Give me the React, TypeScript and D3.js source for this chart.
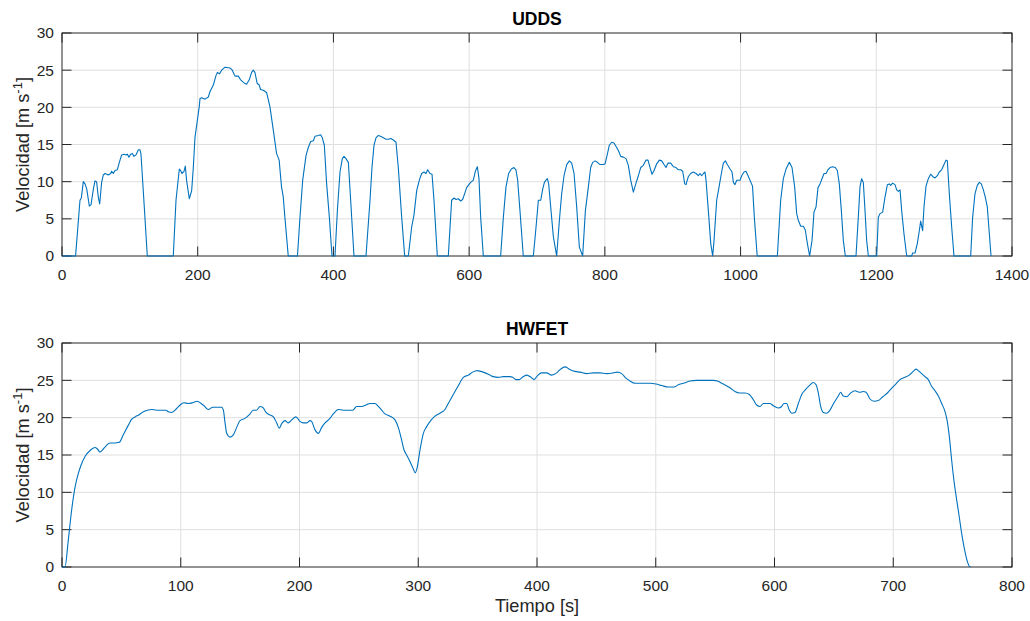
import React from "react";
import * as d3 from "d3";

// ---------- DATA ----------
const uddsTicksX = [0, 200, 400, 600, 800, 1000, 1200, 1400];
const hwfetTicksX = [0, 100, 200, 300, 400, 500, 600, 700, 800];
const speedTicks = [0, 5, 10, 15, 20, 25, 30];

// UDDS: [time s, speed m/s]
const uddsPoints: [number, number][] = [
  [0,0],[20,0],
  [26.5,7.5],[28.5,7.8],[31.4,10.0],[34,9.7],[36.5,9.0],[40.3,6.7],[42.8,6.9],[46.2,9.0],[48.6,10.1],[51,10.0],[53.5,7.9],[55.5,7.0],[58.4,9.9],[60.9,10.9],[63.4,11.1],[68.3,10.9],[71.7,11.1],[73.2,11.4],[75.6,11.1],[78.1,11.5],[81.5,11.6],[84.5,12.6],[87.9,13.6],[91.4,13.7],[94.3,13.6],[96.3,13.7],[98.7,13.3],[101.2,13.7],[103.6,13.8],[106.1,13.4],[109,13.6],[112.5,14.3],[114.9,14.3],[116.4,13.7],[121,7],[125.7,0],
  [164,0],[168,7.5],[172.9,11.7],[174.8,11.5],[176.8,11.1],[179.8,11.4],[181.7,12.1],[183.7,10.1],[187.6,7.7],[191.1,8.8],[193.5,11.9],[196,16],[199.4,18.2],[202.4,20.2],[203.4,21.2],[205.9,21.3],[210.8,21.1],[215.7,21.4],[218,22.1],[223,23.0],[227,24.3],[229,24.7],[231.9,24.5],[235.3,25.0],[240.2,25.4],[247.5,25.3],[251,25.0],[254.9,24.2],[259.8,24.2],[263.2,23.7],[269.6,23.2],[272,23.1],[276,23.7],[279.4,24.7],[281.9,25.0],[284.3,24.7],[287.7,23.2],[290.7,23.0],[292.6,22.4],[296.6,22.3],[301.5,22.0],[306.4,20.1],[311.3,17.0],[316.2,13.8],[320,12.9],[323.5,9.3],[326,8.0],[328.4,5.3],[333.4,0],
  [347,0],[350.7,5.2],[354.7,10.2],[359.6,13.5],[363,14.6],[366.5,15.4],[370.4,15.5],[372.8,16.1],[377.8,16.2],[381.2,16.3],[383.6,15.9],[386.6,14.9],[390,9.7],[394,5.2],[397.9,0],[402.3,0],[405.8,6.1],[409.7,11.3],[413.1,13.1],[415.6,13.4],[418.5,13.1],[422,12.6],[425.4,7.5],[430.3,0],
  [448,0],[453.9,7.5],[456.8,11.9],[459.8,14.9],[462.7,15.9],[465.7,16.2],[469.6,16.1],[473.5,15.9],[477.5,15.7],[480.9,15.7],[484.5,15.8],[488.3,15.6],[492.2,15.3],[495.6,11.9],[500.6,5.2],[505,0],
  [510.4,0],[515.3,3.9],[518.7,5.5],[522.7,8.8],[526.6,10.2],[530,11.1],[533.5,11.3],[536.4,11.1],[538.9,11.6],[542.3,11.1],[545.3,11.0],[548.2,7.5],[553.1,0],
  [569.3,0],[574.2,7.5],[577.7,7.8],[580.6,7.6],[584,7.7],[587.5,7.4],[590.4,7.6],[593.4,8.4],[596.3,9.2],[598.8,9.5],[602.2,9.9],[606.2,10.2],[609.1,11.4],[612.1,12.0],[614.5,10.4],[617,5.2],[620.9,0],
  [646.4,0],[650.4,5.2],[654.3,9.3],[658.2,11.1],[662.2,11.7],[666.1,11.9],[669,11.6],[671.5,10.2],[674.9,6.1],[679.8,0],
  [694.6,0],[698.6,3.9],[702,7.5],[705.5,7.5],[708.4,9.0],[710.9,9.9],[713.3,10.2],[715.3,10.4],[717.2,9.7],[720.2,6.6],[724.1,2.6],[729,0],[733,4.8],[736.4,8.4],[739.8,10.8],[743.8,12.3],[747.7,12.8],[751.1,12.5],[754.6,11.1],[758.5,6.6],[762.4,1.2],[767.3,0],[771.3,6.1],[775.7,9.3],[779.1,11.9],[782.1,12.6],[785.5,12.8],[789,12.6],[792.9,12.3],[797.8,12.3],[800.3,12.4],[803.7,13.7],[806.6,14.9],[810.1,15.3],[813.5,15.2],[817.4,14.6],[820.4,14.1],[823.3,13.4],[827.3,13.3],[831.2,13.1],[834.6,12.2],[838.1,10.2],[842,8.6],[845.9,9.8],[849.4,10.8],[852.8,11.9],[856.7,12.2],[860.7,12.9],[863.6,12.9],[866.6,11.9],[869.5,11.0],[872.5,11.5],[876.4,12.4],[880.3,12.9],[883.8,12.8],[887.2,12.3],[890.1,11.9],[893.1,12.5],[897,12.5],[901,12.0],[904.9,11.9],[908.3,11.6],[911.8,11.6],[914.7,11.4],[917.7,9.7],[919.6,9.6],[923.1,10.7],[926.5,11.1],[930.4,11.3],[934.4,11.1],[937.8,10.8],[940.2,11.1],[942.7,10.8],[945.2,11.1],[947.6,11.3],[949.1,10.2],[952.5,6.1],[956,1.7],[958.9,0],[960.9,2.1],[964.8,7.5],[968.7,9.5],[971.7,11.1],[974.6,12.5],[977.6,12.8],[980.5,12.3],[984.5,11.7],[987.4,11.3],[989.4,9.9],[991.8,9.6],[994.3,10.2],[999.2,10.2],[1001.7,10.8],[1005.1,11.3],[1008,11.4],[1011,10.8],[1013.9,10.2],[1017.6,9.4],[1020.3,5.2],[1024.5,0],
  [1054.2,0],[1059.1,7.5],[1063,10.4],[1067,11.7],[1071.9,12.6],[1075.8,11.9],[1079.7,9.3],[1082.7,5.7],[1085.1,4.8],[1088.6,4.0],[1092.5,4.0],[1095.4,3.5],[1098.4,1.7],[1101.8,0],[1105.3,2.1],[1108.2,5.9],[1111.2,6.6],[1114.1,9.2],[1117.1,9.7],[1120,10.4],[1123,11.1],[1126,11.1],[1128.8,11.6],[1131.8,11.9],[1135.7,12.0],[1139.6,11.9],[1142.6,11.5],[1145.5,9.7],[1148.5,6.1],[1151.4,2.1],[1154.4,0],
  [1170.1,0],[1173.5,5.2],[1176,9.3],[1178.4,10.4],[1180.9,9.9],[1183.4,6.1],[1185.8,2.1],[1188.3,0],
  [1200.6,0],[1203,5.2],[1205.5,5.7],[1209.4,5.9],[1212.8,7.9],[1216.3,9.6],[1219.2,9.7],[1221.2,9.5],[1224.1,9.8],[1227.6,9.6],[1230,8.9],[1232.5,8.7],[1235,8.9],[1237.4,6.1],[1240.8,3.0],[1244.8,0],[1252.1,0],[1253.6,0.4],[1257.1,0.4],[1260.5,1.7],[1263.4,3.4],[1265.4,4.7],[1268.3,3.4],[1270.3,6.6],[1273.3,9.4],[1276.7,10.4],[1280.1,11.0],[1283.1,10.7],[1286.5,10.5],[1290,10.8],[1292.9,11.3],[1296.3,11.6],[1299.8,12.3],[1302.7,12.9],[1304.7,12.8],[1307.6,8.4],[1311.1,3.9],[1314.5,0],
  [1339.1,0],[1342,5.2],[1345.5,8.4],[1348.9,9.5],[1351.9,9.9],[1354.8,9.7],[1357.8,8.9],[1360.7,7.9],[1363.6,6.6],[1366.6,3.0],[1369.1,0],
];

// HWFET: [time s, speed m/s]
const hwfetPoints: [number, number][] = [
  [0,0],[2.5,0],[5.3,3.6],[8.1,7.6],[11,10.7],[13,12.1],[15.7,13.5],[19.4,14.8],[23.6,15.6],[27.8,16.0],[29.8,15.8],[32,15.4],[34.2,15.7],[37,16.2],[40.4,16.6],[44.6,16.6],[48.3,16.7],[51.6,17.7],[55.9,19.0],[58.7,19.8],[61.5,20.1],[65.1,20.4],[68.5,20.8],[71.9,21.0],[75.5,21.1],[79.7,21.0],[83.9,21.0],[87.6,21.0],[89.5,20.8],[92.4,20.7],[95.2,21.0],[98.8,21.6],[102.7,22.0],[106.4,21.9],[110,22.0],[114,22.2],[116.2,22.0],[119.6,21.6],[123.2,21.1],[126.9,21.4],[130.2,21.4],[134.5,21.4],[135.9,21.0],[137.3,19.3],[138.7,17.9],[141.5,17.4],[144.3,17.7],[147.1,18.7],[149.9,19.6],[154.1,19.9],[157.8,20.4],[161.1,21.0],[163.9,21.0],[166.7,21.5],[169,21.4],[171.8,20.7],[174.6,20.4],[178,20.1],[180.8,19.3],[183,18.6],[185,19.2],[187.8,19.6],[190.6,19.3],[193.4,19.7],[197,20.1],[200.4,19.5],[203.2,19.3],[206,19.3],[208.8,19.6],[210.2,19.5],[213,18.4],[215.9,17.9],[218.7,18.7],[221.5,19.3],[225.1,19.8],[228.5,20.5],[232.7,21.1],[236.9,21.0],[241.1,21.0],[244.8,21.0],[248.1,21.5],[252.3,21.5],[256,21.7],[259.4,21.9],[263.6,21.9],[266.4,21.5],[269.2,21.0],[272,20.5],[276.2,20.2],[280.4,19.7],[283.2,18.7],[286,17.0],[288,15.7],[290.2,15.0],[293.1,14.1],[295.9,13.1],[297.5,12.6],[299.2,13.4],[301.5,15.7],[304.3,17.9],[307.1,18.8],[310.5,19.6],[314.1,20.2],[318.3,20.6],[322.5,21.1],[325.3,21.9],[329.5,23.1],[333.8,24.3],[338,25.4],[342.2,25.7],[345.8,26.1],[349.8,26.3],[352.6,26.2],[356.2,26.0],[360.4,25.7],[363.2,25.5],[367.4,25.4],[371.7,25.5],[377.3,25.5],[379.5,25.4],[382.3,25.1],[385.1,25.1],[388.5,25.5],[391.3,25.7],[394.1,25.5],[397.5,25.1],[400.3,25.6],[403.9,26.0],[408.1,26.0],[412.3,25.7],[416.6,26.0],[419.9,26.5],[423.6,26.8],[427.2,26.5],[432,26.2],[436.2,26.1],[441.8,25.9],[447.4,26.0],[453,26.0],[458.7,25.9],[464.3,26.0],[467.6,26.1],[471.3,25.9],[474.9,25.3],[478.3,24.9],[482.5,24.6],[488.1,24.6],[495.2,24.6],[500.2,24.5],[505,24.3],[510.6,24.1],[515.4,24.1],[519,24.4],[523.2,24.6],[528.8,24.9],[534.4,25.0],[541.5,25.0],[548.5,25.0],[551.9,24.9],[556.9,24.5],[562.5,24.0],[566.7,23.5],[570.4,23.3],[575.1,23.3],[578.8,23.1],[582.2,22.4],[585,21.7],[587.8,21.5],[590.6,21.9],[593.4,21.9],[596.2,21.9],[599,21.6],[603.2,21.3],[606,21.5],[608,21.9],[610.2,21.9],[612.5,21.0],[614.5,20.6],[617.3,20.7],[620.1,21.9],[622.9,23.1],[625.7,23.7],[629.3,24.3],[632.7,24.7],[635,24.4],[636.9,23.3],[638.9,21.5],[641.1,20.7],[643.9,20.6],[646.7,21.0],[650.1,22.0],[653.7,22.9],[655.7,23.4],[657.9,22.9],[660.8,22.8],[664.1,23.3],[667.8,23.6],[671.4,23.4],[674.8,23.5],[677.1,23.4],[680.4,22.5],[683.8,22.2],[687.4,22.3],[691.1,22.8],[694.4,23.2],[697.8,23.8],[701.5,24.4],[705.7,25.1],[709.9,25.4],[713.5,25.7],[716.9,26.2],[719.1,26.5],[721.1,26.3],[723.9,25.9],[726.7,25.5],[729.5,25.1],[732.3,24.2],[735.2,23.6],[738,22.9],[740.8,21.9],[743.6,20.8],[745.5,19.5],[747.2,17.5],[749.2,14.3],[751.1,11.6],[753.4,9.0],[755.6,6.7],[757.6,4.5],[759.6,2.7],[761.8,1.1],[764.1,0.1],[765.2,0],
];

// ---------- STYLE ----------
const W = 1030;
const H = 621;
const LEFT = 62;
const RIGHT = 1012;
const FONT = "'Liberation Sans', Arial, Helvetica, sans-serif";
const INK = "#262626";
const GRID = "#dfdfdf";
const LINE = "#0072BD";
const TICK = 9.5;

type PanelProps = {
  top: number;
  bottom: number;
  points: [number, number][];
  xMax: number;
  xTicks: number[];
  title: string;
  xLabel?: string;
  smooth?: boolean;
};

function Panel({ top, bottom, points, xMax, xTicks, title, xLabel, smooth }: PanelProps) {
  const x = d3.scaleLinear().domain([0, xMax]).range([LEFT, RIGHT]);
  const y = d3.scaleLinear().domain([0, 30]).range([bottom, top]);
  const line = d3
    .line<[number, number]>()
    .x((d) => x(d[0]))
    .y((d) => y(d[1]))
    .curve(smooth ? d3.curveMonotoneX : d3.curveLinear);
  const midY = (top + bottom) / 2;
  return (
    <g>
      {/* grid */}
      {xTicks.slice(1, -1).map((t) => (
        <line key={"gx" + t} x1={x(t)} x2={x(t)} y1={top} y2={bottom} stroke={GRID} strokeWidth={1} />
      ))}
      {speedTicks.slice(1, -1).map((t) => (
        <line key={"gy" + t} x1={LEFT} x2={RIGHT} y1={y(t)} y2={y(t)} stroke={GRID} strokeWidth={1} />
      ))}
      {/* ticks */}
      {xTicks.map((t) => (
        <g key={"tx" + t}>
          <line x1={x(t)} x2={x(t)} y1={bottom} y2={bottom - TICK} stroke={INK} strokeWidth={1} />
          <line x1={x(t)} x2={x(t)} y1={top} y2={top + TICK} stroke={INK} strokeWidth={1} />
          <text x={x(t)} y={bottom + 23.5} textAnchor="middle" fontSize={15.5} fill={INK} fontFamily={FONT}>
            {t}
          </text>
        </g>
      ))}
      {speedTicks.map((t) => (
        <g key={"ty" + t}>
          <line x1={LEFT} x2={LEFT + TICK} y1={y(t)} y2={y(t)} stroke={INK} strokeWidth={1} />
          <line x1={RIGHT} x2={RIGHT - TICK} y1={y(t)} y2={y(t)} stroke={INK} strokeWidth={1} />
          <text x={54} y={y(t)} dy="0.35em" textAnchor="end" fontSize={15.5} fill={INK} fontFamily={FONT}>
            {t}
          </text>
        </g>
      ))}
      {/* box */}
      <rect x={LEFT} y={top} width={RIGHT - LEFT} height={bottom - top} fill="none" stroke={INK} strokeWidth={1} />
      {/* data */}
      <path d={line(points) || ""} fill="none" stroke={LINE} strokeWidth={1.1} strokeLinejoin="round" />
      {/* title */}
      <text x={(LEFT + RIGHT) / 2} y={top - 8} textAnchor="middle" fontSize={17.5} fontWeight="bold" fill="#000" fontFamily={FONT}>
        {title}
      </text>
      {/* y label */}
      <text
        transform={`translate(28.5,${midY}) rotate(-90)`}
        textAnchor="middle"
        fontSize={18.2}
        fill={INK}
        fontFamily={FONT}
      >
        Velocidad [m s<tspan dy={-6.5} fontSize={13}>-1</tspan>
        <tspan dy={6.5}>]</tspan>
      </text>
      {xLabel && (
        <text x={(LEFT + RIGHT) / 2} y={bottom + 45} textAnchor="middle" fontSize={18.2} fill={INK} fontFamily={FONT}>
          {xLabel}
        </text>
      )}
    </g>
  );
}

export default function App() {
  return (
    <div style={{ position: "absolute", left: 0, top: 0 }}>
      <svg width={W} height={H} style={{ display: "block", background: "#fff" }}>
        <rect x={0} y={0} width={W} height={H} fill="#fff" />
        <Panel top={33} bottom={256} points={uddsPoints} xMax={1400} xTicks={uddsTicksX} title="UDDS" />
        <Panel
          top={343}
          bottom={567}
          points={hwfetPoints}
          xMax={800}
          xTicks={hwfetTicksX}
          title="HWFET"
          xLabel="Tiempo [s]"
          smooth
        />
      </svg>
    </div>
  );
}
